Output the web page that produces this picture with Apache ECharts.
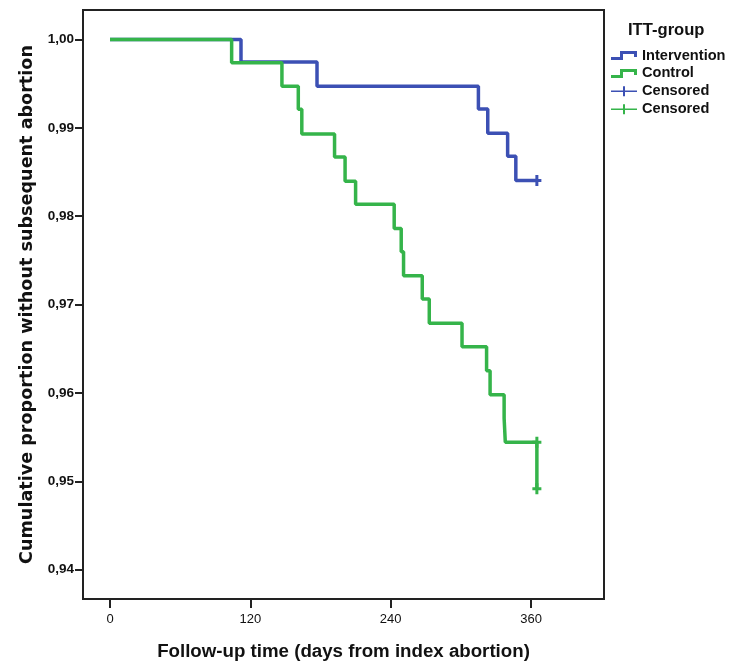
<!DOCTYPE html>
<html>
<head>
<meta charset="utf-8">
<script src="https://cdn.jsdelivr.net/npm/echarts@6/dist/echarts.min.js"></script>
<style>
  html, body { margin: 0; padding: 0; background: #fff; }
  #chart { width: 734px; height: 661px; }
</style>
</head>
<body>
<div id="chart"></div>
<script>
// Kaplan-Meier steps
const interventionDays = [0, 112, 177, 315, 323, 340, 347, 365];
const interventionSurv = [1.0, 0.99744, 0.99469, 0.99212, 0.98938, 0.98678, 0.98403, 0.98403];
const controlDays = [0, 104, 147, 161, 164, 192, 201, 210, 243, 249, 251, 267, 273, 301, 322, 325, 337, 338, 365];
const controlSurv = [1.0, 0.99737, 0.99469, 0.99209, 0.98930, 0.98670, 0.98395, 0.98136, 0.97861, 0.97597,
  0.97325, 0.97062, 0.96788, 0.96523, 0.96252, 0.95981, 0.95714, 0.95443, 0.94915];
const interventionCensored = [[365, 0.98403]];
const controlCensored = [[365, 0.95443], [365, 0.94915]];
const xTicks = [0, 120, 240, 360];
const yTicks = [0.94, 0.95, 0.96, 0.97, 0.98, 0.99, 1.00];

const BLUE = '#3c50b4';
const GREEN = '#35b44a';
const FONT = 'Liberation Sans, Arial, sans-serif';

const stepIcon = 'path://M0,6L9,6L9,0L26,0L26,6L23,6L23,3L12,3L12,9L0,9Z';
const censorIcon = 'path://M0,4.2L12,4.2L12,0L14,0L14,4.2L26,4.2L26,5.8L14,5.8L14,10L12,10L12,5.8L0,5.8Z';
const plusMark = 'path://M3,0L6,0L6,4L9,4L9,7L6,7L6,11L3,11L3,7L0,7L0,4L3,4Z';

function zip(xs, ys) {
  return xs.map((x, i) => [x, ys[i]]);
}

let myChart = echarts.init(document.getElementById('chart'));
let option = {
  animation: false,
  backgroundColor: '#fff',
  title: {
    text: 'ITT-group',
    left: 623,
    top: 17,
    textStyle: { fontFamily: FONT, fontSize: 16.6, fontWeight: 'bold', color: '#111' }
  },
  legend: {
    orient: 'vertical',
    left: 606,
    top: 43,
    itemWidth: 26,
    itemHeight: 10,
    itemGap: 2.9,
    textStyle: { fontFamily: FONT, fontSize: 14.6, fontWeight: 'bold', color: '#111' },
    formatter: function (name) {
      return name.indexOf('Censored') === 0 ? 'Censored' : name;
    },
    data: [
      { name: 'Intervention', icon: stepIcon },
      { name: 'Control', icon: stepIcon },
      { name: 'Censored (Intervention)', icon: censorIcon },
      { name: 'Censored (Control)', icon: censorIcon }
    ]
  },
  grid: {
    left: 83,
    top: 10,
    width: 521,
    height: 589,
    show: true,
    borderColor: '#222',
    borderWidth: 2,
    containLabel: false,
    outerBoundsMode: 'none'
  },
  xAxis: {
    type: 'value',
    min: -23.1,
    max: 422.4,
    name: 'Follow-up time (days from index abortion)',
    nameLocation: 'middle',
    nameGap: 43,
    nameTextStyle: { fontFamily: FONT, fontSize: 18.7, fontWeight: 'bold', color: '#111' },
    axisLine: { show: true, onZero: false, lineStyle: { color: '#222', width: 2 } },
    axisTick: { show: true, length: 9, customValues: xTicks, lineStyle: { color: '#222', width: 2 } },
    axisLabel: { customValues: xTicks, fontFamily: FONT, fontSize: 13, color: '#111', margin: 14 },
    splitLine: { show: false }
  },
  yAxis: {
    type: 'value',
    min: 0.93669,
    max: 1.00333,
    name: 'Cumulative proportion without subsequent abortion',
    nameLocation: 'middle',
    nameGap: 45,
    nameTextStyle: { fontFamily: 'DejaVu Sans, sans-serif', fontSize: 17.6, fontWeight: 'bold', color: '#111' },
    axisLine: { show: true, onZero: false, lineStyle: { color: '#222', width: 2 } },
    axisTick: { show: true, length: 8, customValues: yTicks, lineStyle: { color: '#222', width: 2 } },
    axisLabel: {
      customValues: yTicks,
      fontFamily: FONT,
      fontSize: 13.5,
      fontWeight: 'bold',
      color: '#111',
      margin: 9,
      formatter: function (v) { return v.toFixed(2).replace('.', ','); }
    },
    splitLine: { show: false }
  },
  series: [
    {
      name: 'Intervention',
      type: 'line',
      step: 'end',
      showSymbol: false,
      color: BLUE,
      lineStyle: { color: BLUE, width: 3.5 },
      data: zip(interventionDays, interventionSurv),
      z: 2
    },
    {
      name: 'Control',
      type: 'line',
      step: 'end',
      showSymbol: false,
      color: GREEN,
      lineStyle: { color: GREEN, width: 3.5 },
      data: zip(controlDays, controlSurv),
      z: 3
    },
    {
      name: 'Censored (Intervention)',
      type: 'scatter',
      symbol: plusMark,
      symbolSize: [9, 11],
      color: BLUE,
      itemStyle: { color: BLUE, opacity: 1 },
      data: interventionCensored,
      z: 4
    },
    {
      name: 'Censored (Control)',
      type: 'scatter',
      symbol: plusMark,
      symbolSize: [9, 11],
      color: GREEN,
      itemStyle: { color: GREEN, opacity: 1 },
      data: controlCensored,
      z: 4
    }
  ]
};
myChart.setOption(option);
</script>
</body>
</html>
